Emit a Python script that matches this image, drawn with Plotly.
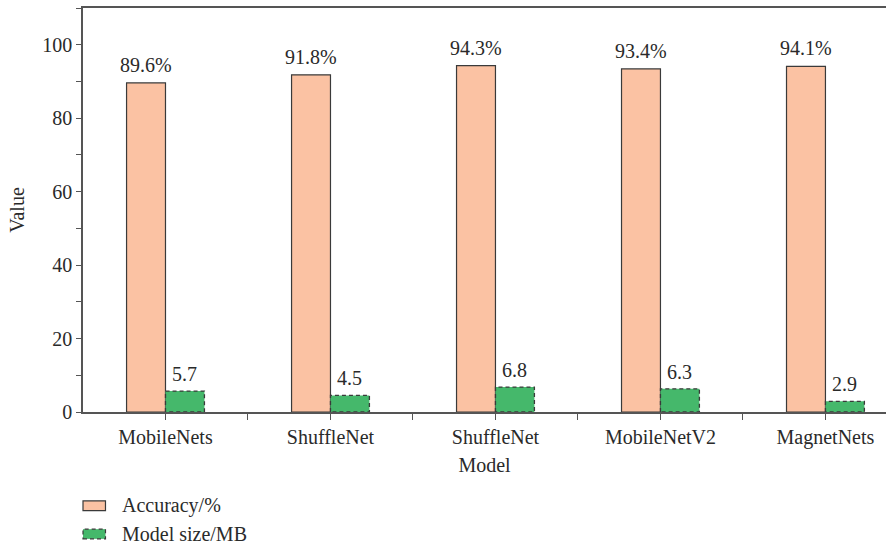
import plotly.graph_objects as go

# Data
models = ["MobileNets", "ShuffleNet", "ShuffleNet", "MobileNetV2", "MagnetNets"]
accuracy = [89.6, 91.8, 94.3, 93.4, 94.1]
model_size = [5.7, 4.5, 6.8, 6.3, 2.9]
acc_labels = ["89.6%", "91.8%", "94.3%", "93.4%", "94.1%"]
size_labels = ["5.7", "4.5", "6.8", "6.3", "2.9"]

ORANGE = "#FBC2A3"
GREEN = "#45B86B"
EDGE = "#3a3a3a"
TEXT = "#2a2a2a"
FONT = "Liberation Serif"
BAR_W = 0.236

xpos = list(range(len(models)))

fig = go.Figure()

fig.add_trace(go.Bar(
    x=xpos, y=accuracy, width=BAR_W, offset=-BAR_W,
    marker=dict(color=ORANGE, line=dict(color=EDGE, width=1.2)),
    showlegend=False,
))
fig.add_trace(go.Bar(
    x=xpos, y=model_size, width=BAR_W, offset=0,
    marker=dict(color=GREEN, line=dict(width=0)),
    showlegend=False,
))

# dashed outline around the model-size bars
ox, oy = [], []
for i, v in zip(xpos, model_size):
    ox += [i, i, i + BAR_W, i + BAR_W, i, None]
    oy += [0, v, v, 0, 0, None]
fig.add_trace(go.Scatter(
    x=ox, y=oy, mode="lines",
    line=dict(color=EDGE, width=1.3, dash="4px,3px"),
    showlegend=False, hoverinfo="skip", cliponaxis=False,
))

# value labels above each bar
for i, v, t in zip(xpos, accuracy, acc_labels):
    fig.add_annotation(x=i - BAR_W / 2, y=v, text=t, showarrow=False,
                       yanchor="bottom", yshift=5,
                       font=dict(family=FONT, size=20, color=TEXT))
for i, v, t in zip(xpos, model_size, size_labels):
    fig.add_annotation(x=i + BAR_W / 2, y=v, text=t, showarrow=False,
                       yanchor="bottom", yshift=4,
                       font=dict(family=FONT, size=20, color=TEXT))

# legend drawn below the plot
legend_items = [
    ("Accuracy/%", ORANGE, "solid", -0.232),
    ("Model size/MB", GREEN, "4px,3px", -0.302),
]
for label, col, dash, yc in legend_items:
    fig.add_shape(type="rect", xref="paper", yref="paper",
                  x0=0.0, x1=0.028, y0=yc - 0.012, y1=yc + 0.012,
                  fillcolor=col, line=dict(color=EDGE, width=1.2, dash=dash))
    fig.add_annotation(xref="paper", yref="paper", x=0.046, y=yc,
                       text=label, showarrow=False, xanchor="left",
                       yanchor="middle",
                       font=dict(family=FONT, size=20, color=TEXT))

fig.update_layout(
    width=886, height=547,
    margin=dict(l=83, r=0, t=8, b=135),
    paper_bgcolor="white", plot_bgcolor="white",
    font=dict(family=FONT, size=20, color=TEXT),
    barmode="overlay",
    xaxis=dict(
        range=[-0.5, 4.367],
        tickmode="array", tickvals=xpos, ticktext=models,
        ticks="outside", ticklen=6, tickcolor="#555", tickwidth=1.3,
        minor=dict(tickvals=[i + 0.5 for i in xpos], ticks="outside",
                   ticklen=6, tickcolor="#555", tickwidth=1.3),
        showline=True, linecolor="#555", linewidth=1.5, mirror=True,
        showgrid=False, zeroline=False,
        title=dict(text="Model", standoff=10,
                   font=dict(family=FONT, size=20, color=TEXT)),
        tickfont=dict(family=FONT, size=20, color=TEXT),
    ),
    yaxis=dict(
        range=[0, 110], tick0=0, dtick=20,
        ticks="outside", ticklen=5, tickcolor="#555", tickwidth=1.3,
        minor=dict(dtick=10, ticks="outside", ticklen=5,
                   tickcolor="#555", tickwidth=1.3),
        showline=True, linecolor="#555", linewidth=1.5,
        showgrid=False, zeroline=False,
        title=dict(text="Value", standoff=12,
                   font=dict(family=FONT, size=20, color=TEXT)),
        tickfont=dict(family=FONT, size=20, color=TEXT),
    ),
)

fig.write_html("out.html")
